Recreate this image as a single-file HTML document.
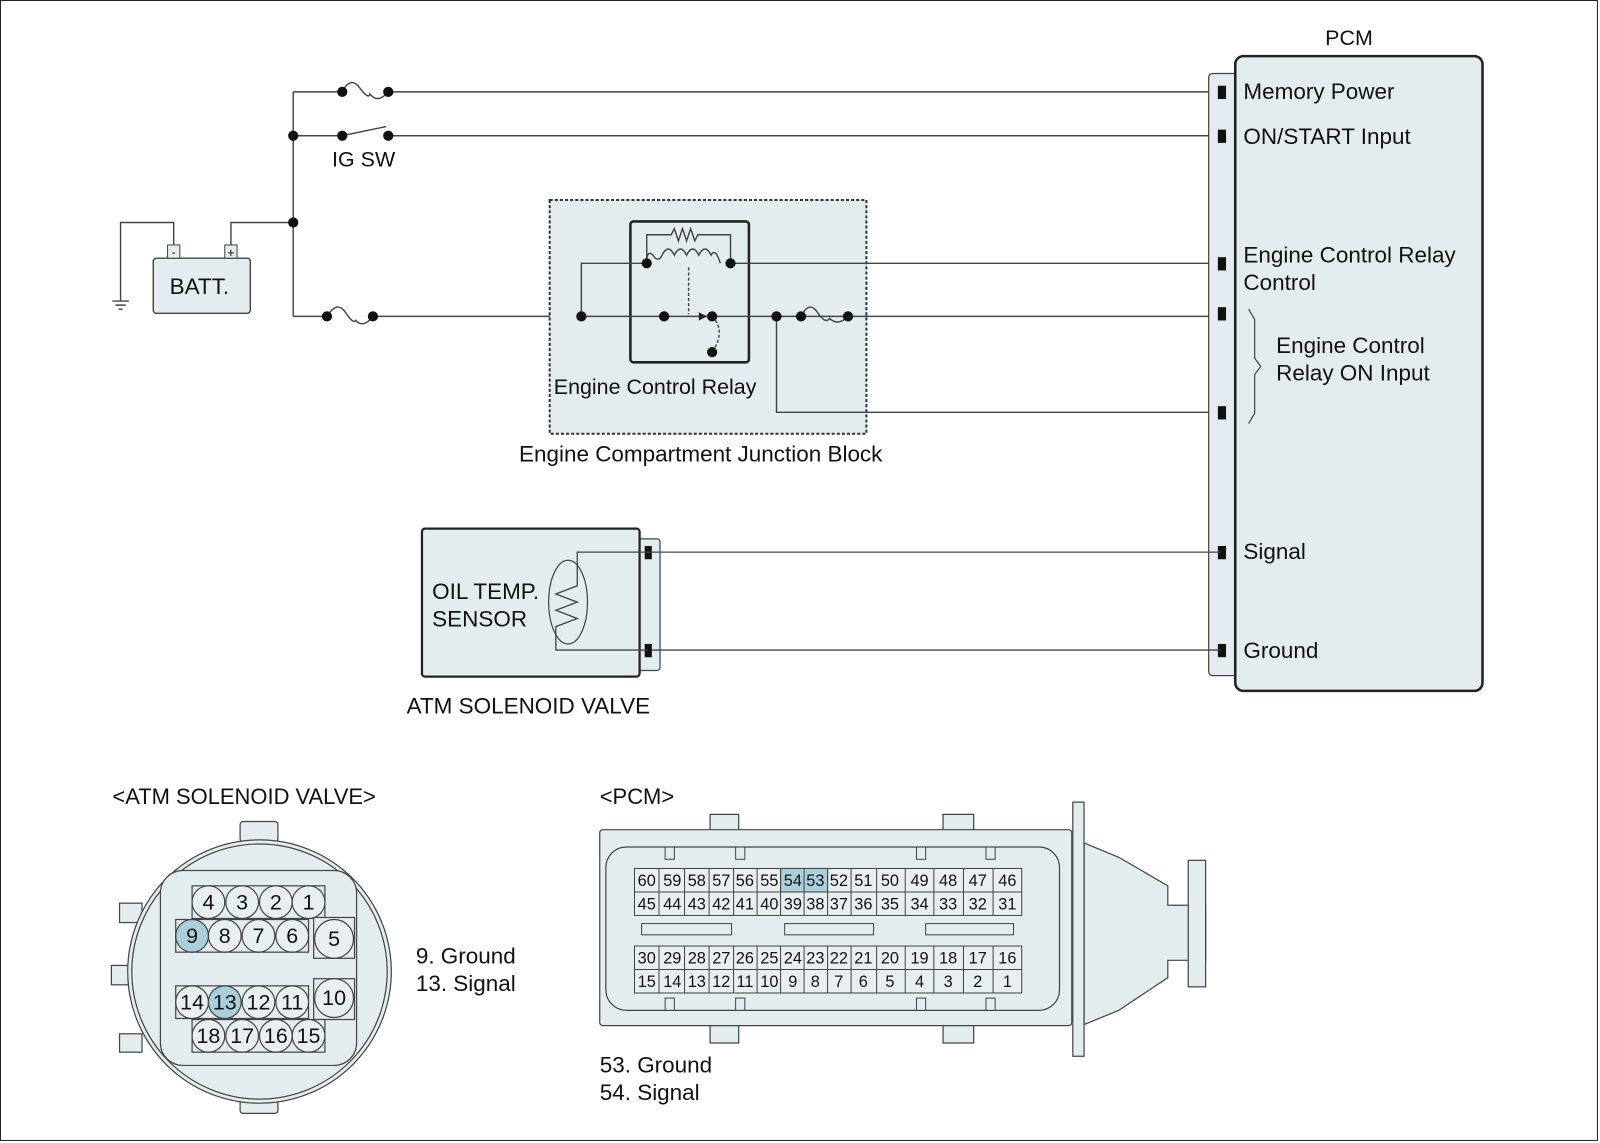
<!DOCTYPE html>
<html><head><meta charset="utf-8"><style>
html,body{margin:0;padding:0;background:#fff}
svg{display:block}
text{font-family:"Liberation Sans",Arial,sans-serif;fill:#111}
</style></head><body>
<svg width="1600" height="1143" viewBox="0 0 1566 1120" preserveAspectRatio="none" xmlns="http://www.w3.org/2000/svg">
<rect x="0.5" y="0.5" width="1563" height="1117" fill="#fff" stroke="#222" stroke-width="1"/>
<g stroke="#444" stroke-width="1.4" fill="none">
<path d="M287 90V310"/>
<path d="M287 90H335"/><path d="M335 90q8 -16 17 -4t10 6q8 10 18 -2"/><path d="M380 90H1195"/>
<path d="M287 133H335"/><path d="M335 133L378 124"/><path d="M380 133H1195"/>
<path d="M226 242V218H287"/><path d="M170 242V218H118V295"/>
<path d="M110 295H126M113 299H123M116 303H120"/>
<path d="M287 310H320"/><path d="M320 310q10 -16 18 -4t10 8q8 8 17 -4"/><path d="M365 310H569"/>
</g>
<rect x="150" y="253" width="95" height="54" rx="3" fill="#e3ecee" stroke="#444" stroke-width="1.4"/>
<rect x="164" y="240" width="12" height="13" fill="#e3ecee" stroke="#444"/>
<rect x="220" y="240" width="12" height="13" fill="#e3ecee" stroke="#444"/>
<text x="170" y="251" font-size="12" text-anchor="middle">-</text>
<text x="226" y="252" font-size="13" text-anchor="middle">+</text>
<text x="166" y="288" font-size="22">BATT.</text>
<text x="325" y="163" font-size="21">IG SW</text>
<rect x="538" y="196" width="310" height="229" fill="#e3ecee" stroke="#333" stroke-width="2" stroke-dasharray="3,2"/>
<rect x="617" y="217" width="116" height="138" rx="3" fill="#e3ecee" stroke="#222" stroke-width="2.5"/>
<g stroke="#444" stroke-width="1.4" fill="none">
<path d="M569 310H1195"/>
<path d="M569 310V258H633"/>
<path d="M633 258V230H657l3 -6 4 12 4 -12 4 12 4 -12 4 12 3 -6H715V258"/>
<path d="M633 258q0 -14 6 -8q5 8 9 0q6 -12 12 0q6 -12 12 0q6 -12 12 0q6 -12 12 0q4 -8 9 8"/>
<path d="M715 258H1195"/>
<path d="M674 262V308" stroke-dasharray="3,2"/>
<path d="M697 310q14 14 0 35" stroke-dasharray="3,2"/>
<path d="M760 310V404H1195"/>
<path d="M784 310q8 -16 16 -4t12 6q8 8 18 -2"/>
</g>
<path d="M684 306l8 4-8 4z" fill="#222"/>
<g fill="#111">
<circle cx="287" cy="133" r="5"/><circle cx="287" cy="218" r="5"/>
<circle cx="335" cy="90" r="5"/><circle cx="380" cy="90" r="5"/>
<circle cx="335" cy="133" r="5"/><circle cx="380" cy="133" r="5"/>
<circle cx="320" cy="310" r="5"/><circle cx="365" cy="310" r="5"/>
<circle cx="569" cy="310" r="5"/><circle cx="650" cy="310" r="5"/><circle cx="697" cy="310" r="5"/>
<circle cx="697" cy="345" r="5"/><circle cx="633" cy="258" r="5"/><circle cx="715" cy="258" r="5"/>
<circle cx="760" cy="310" r="5"/><circle cx="784" cy="310" r="5"/><circle cx="830" cy="310" r="5"/>
</g>
<text x="542" y="386" font-size="21">Engine Control Relay</text>
<text x="508" y="452" font-size="22">Engine Compartment Junction Block</text>
<rect x="1183" y="72" width="30" height="590" rx="4" fill="#e3ecee" stroke="#444" stroke-width="1.2"/>
<rect x="1209" y="55" width="242" height="622" rx="8" fill="#e3ecee" stroke="#222" stroke-width="2.5"/>
<g fill="#111">
<rect x="1192" y="84" width="8" height="13"/><rect x="1192" y="127" width="8" height="13"/>
<rect x="1192" y="252" width="8" height="13"/><rect x="1192" y="301" width="8" height="13"/>
<rect x="1192" y="398" width="8" height="13"/><rect x="1192" y="535" width="8" height="13"/>
<rect x="1192" y="631" width="8" height="13"/>
</g>
<path d="M1222 303l6 10v38l6 8-6 8v38l-6 10" fill="none" stroke="#444" stroke-width="1.2"/>
<text x="1297" y="44" font-size="21">PCM</text>
<g font-size="22">
<text x="1217" y="97">Memory Power</text>
<text x="1217" y="141">ON/START  Input</text>
<text x="1217" y="257">Engine Control Relay</text>
<text x="1217" y="284">Control</text>
<text x="1249" y="346">Engine Control</text>
<text x="1249" y="373">Relay ON Input</text>
<text x="1217" y="548">Signal</text>
<text x="1217" y="645">Ground</text>
</g>
<rect x="622" y="528" width="24" height="129" rx="3" fill="#e3ecee" stroke="#444" stroke-width="1.2"/>
<rect x="413" y="518" width="213" height="145" rx="3" fill="#e3ecee" stroke="#222" stroke-width="2.2"/>
<rect x="631" y="535" width="7" height="13" fill="#111"/><rect x="631" y="631" width="7" height="13" fill="#111"/>
<ellipse cx="556" cy="590" rx="19" ry="41" fill="none" stroke="#444" stroke-width="1.2"/>
<path d="M1195 541H634M634 541H565V574l-21 8 21 8-21 8 21 8-21 8 0 0V637H634M638 637H1195" fill="none" stroke="#444" stroke-width="1.3"/>
<text x="423" y="587" font-size="22">OIL TEMP.</text>
<text x="423" y="614" font-size="22">SENSOR</text>
<text x="398" y="699" font-size="22">ATM SOLENOID VALVE</text>
<text x="110" y="788" font-size="21.5">&lt;ATM SOLENOID VALVE&gt;</text>
<g fill="#e3ecee" stroke="#444" stroke-width="1.2">
<rect x="235" y="805" width="37" height="20" rx="3"/>
<rect x="235" y="1073" width="37" height="18" rx="3"/>
<rect x="117" y="885" width="22" height="19"/>
<rect x="109" y="946" width="22" height="19"/>
<rect x="117" y="1013" width="22" height="18"/>
<circle cx="254" cy="952" r="129"/>
<circle cx="254" cy="952" r="125"/>
<rect x="157" y="853" width="192" height="191" rx="22"/>
<rect x="188" y="868" width="130" height="32"/>
<rect x="172" y="901" width="130" height="32"/>
<rect x="307" y="899" width="40" height="40"/>
<rect x="172" y="966" width="130" height="32"/>
<rect x="307" y="959" width="40" height="40"/>
<rect x="188" y="999" width="130" height="32"/>
</g>
<g stroke="#444" stroke-width="1.2" fill="#e8eff1">
<circle cx="204" cy="884" r="16"/><circle cx="237" cy="884" r="16"/><circle cx="270" cy="884" r="16"/><circle cx="302" cy="884" r="16"/>
<circle cx="188" cy="917" r="16" fill="#a9d0da"/><circle cx="220" cy="917" r="16"/><circle cx="253" cy="917" r="16"/><circle cx="286" cy="917" r="16"/>
<circle cx="327" cy="920" r="19"/><circle cx="327" cy="978" r="19"/>
<circle cx="188" cy="982" r="16"/><circle cx="220" cy="982" r="16" fill="#a9d0da"/><circle cx="253" cy="982" r="16"/><circle cx="286" cy="982" r="16"/>
<circle cx="204" cy="1015" r="16"/><circle cx="237" cy="1015" r="16"/><circle cx="270" cy="1015" r="16"/><circle cx="302" cy="1015" r="16"/>
</g>
<g font-size="21" text-anchor="middle">
<text x="204" y="891">4</text><text x="237" y="891">3</text><text x="270" y="891">2</text><text x="302" y="891">1</text>
<text x="188" y="924">9</text><text x="220" y="924">8</text><text x="253" y="924">7</text><text x="286" y="924">6</text>
<text x="327" y="927">5</text><text x="327" y="985">10</text>
<text x="188" y="989">14</text><text x="220" y="989">13</text><text x="253" y="989">12</text><text x="286" y="989">11</text>
<text x="204" y="1022">18</text><text x="237" y="1022">17</text><text x="270" y="1022">16</text><text x="302" y="1022">15</text>
</g>
<text x="407" y="944" font-size="22">9. Ground</text>
<text x="407" y="971" font-size="22">13. Signal</text>
<text x="587" y="788" font-size="21.5">&lt;PCM&gt;</text>
<g fill="#e3ecee" stroke="#444" stroke-width="1.2">
<rect x="695" y="798" width="28" height="20"/><rect x="923" y="798" width="30" height="20"/>
<rect x="695" y="1002" width="28" height="20"/><rect x="923" y="1002" width="30" height="20"/>
<path d="M1061 826L1095 840L1143 868V887H1180V941H1143V958L1095 990L1061 1004Z"/>
<rect x="1163" y="843" width="17" height="124"/>
<rect x="1050" y="786" width="11" height="249"/>
<rect x="587" y="813" width="462" height="192" rx="3"/>
<rect x="593" y="830" width="444" height="160" rx="20"/>
</g>
<g fill="#e3ecee" stroke="#444" stroke-width="1">
<rect x="651" y="830" width="9" height="12"/><rect x="720" y="830" width="9" height="12"/><rect x="897" y="830" width="9" height="12"/><rect x="965" y="830" width="9" height="12"/>
<rect x="651" y="978" width="9" height="12"/><rect x="720" y="978" width="9" height="12"/><rect x="897" y="978" width="9" height="12"/><rect x="965" y="978" width="9" height="12"/>
<rect x="628" y="905" width="88" height="11"/><rect x="768" y="905" width="87" height="11"/><rect x="906" y="905" width="86" height="11"/>
</g>
<g stroke="#444" stroke-width="1">
<rect x="621" y="851" width="379" height="46" fill="#e8eff1"/>
<rect x="764" y="851" width="46" height="23" fill="#a9d0da"/>
<rect x="621" y="927" width="379" height="46" fill="#e8eff1"/>
<path d="M621 874H1000M621 950H1000M645 851V897M670 851V897M694 851V897M718 851V897M741 851V897M764 851V897M787 851V897M810 851V897M833 851V897M858 851V897M886 851V897M914 851V897M943 851V897M972 851V897M645 927V973M670 927V973M694 927V973M718 927V973M741 927V973M764 927V973M787 927V973M810 927V973M833 927V973M858 927V973M886 927V973M914 927V973M943 927V973M972 927V973"/>
</g>
<g font-size="16" text-anchor="middle">
<text x="633" y="868">60</text><text x="658" y="868">59</text><text x="682" y="868">58</text><text x="706" y="868">57</text><text x="729" y="868">56</text><text x="753" y="868">55</text><text x="776" y="868">54</text><text x="798" y="868">53</text><text x="821" y="868">52</text><text x="845" y="868">51</text><text x="871" y="868">50</text><text x="900" y="868">49</text><text x="928" y="868">48</text><text x="957" y="868">47</text><text x="986" y="868">46</text>
<text x="633" y="891">45</text><text x="658" y="891">44</text><text x="682" y="891">43</text><text x="706" y="891">42</text><text x="729" y="891">41</text><text x="753" y="891">40</text><text x="776" y="891">39</text><text x="798" y="891">38</text><text x="821" y="891">37</text><text x="845" y="891">36</text><text x="871" y="891">35</text><text x="900" y="891">34</text><text x="928" y="891">33</text><text x="957" y="891">32</text><text x="986" y="891">31</text>
<text x="633" y="944">30</text><text x="658" y="944">29</text><text x="682" y="944">28</text><text x="706" y="944">27</text><text x="729" y="944">26</text><text x="753" y="944">25</text><text x="776" y="944">24</text><text x="798" y="944">23</text><text x="821" y="944">22</text><text x="845" y="944">21</text><text x="871" y="944">20</text><text x="900" y="944">19</text><text x="928" y="944">18</text><text x="957" y="944">17</text><text x="986" y="944">16</text>
<text x="633" y="967">15</text><text x="658" y="967">14</text><text x="682" y="967">13</text><text x="706" y="967">12</text><text x="729" y="967">11</text><text x="753" y="967">10</text><text x="776" y="967">9</text><text x="798" y="967">8</text><text x="821" y="967">7</text><text x="845" y="967">6</text><text x="871" y="967">5</text><text x="900" y="967">4</text><text x="928" y="967">3</text><text x="957" y="967">2</text><text x="986" y="967">1</text>
</g>
<text x="587" y="1051" font-size="22">53. Ground</text>
<text x="587" y="1078" font-size="22">54. Signal</text>
</svg>
</body></html>
